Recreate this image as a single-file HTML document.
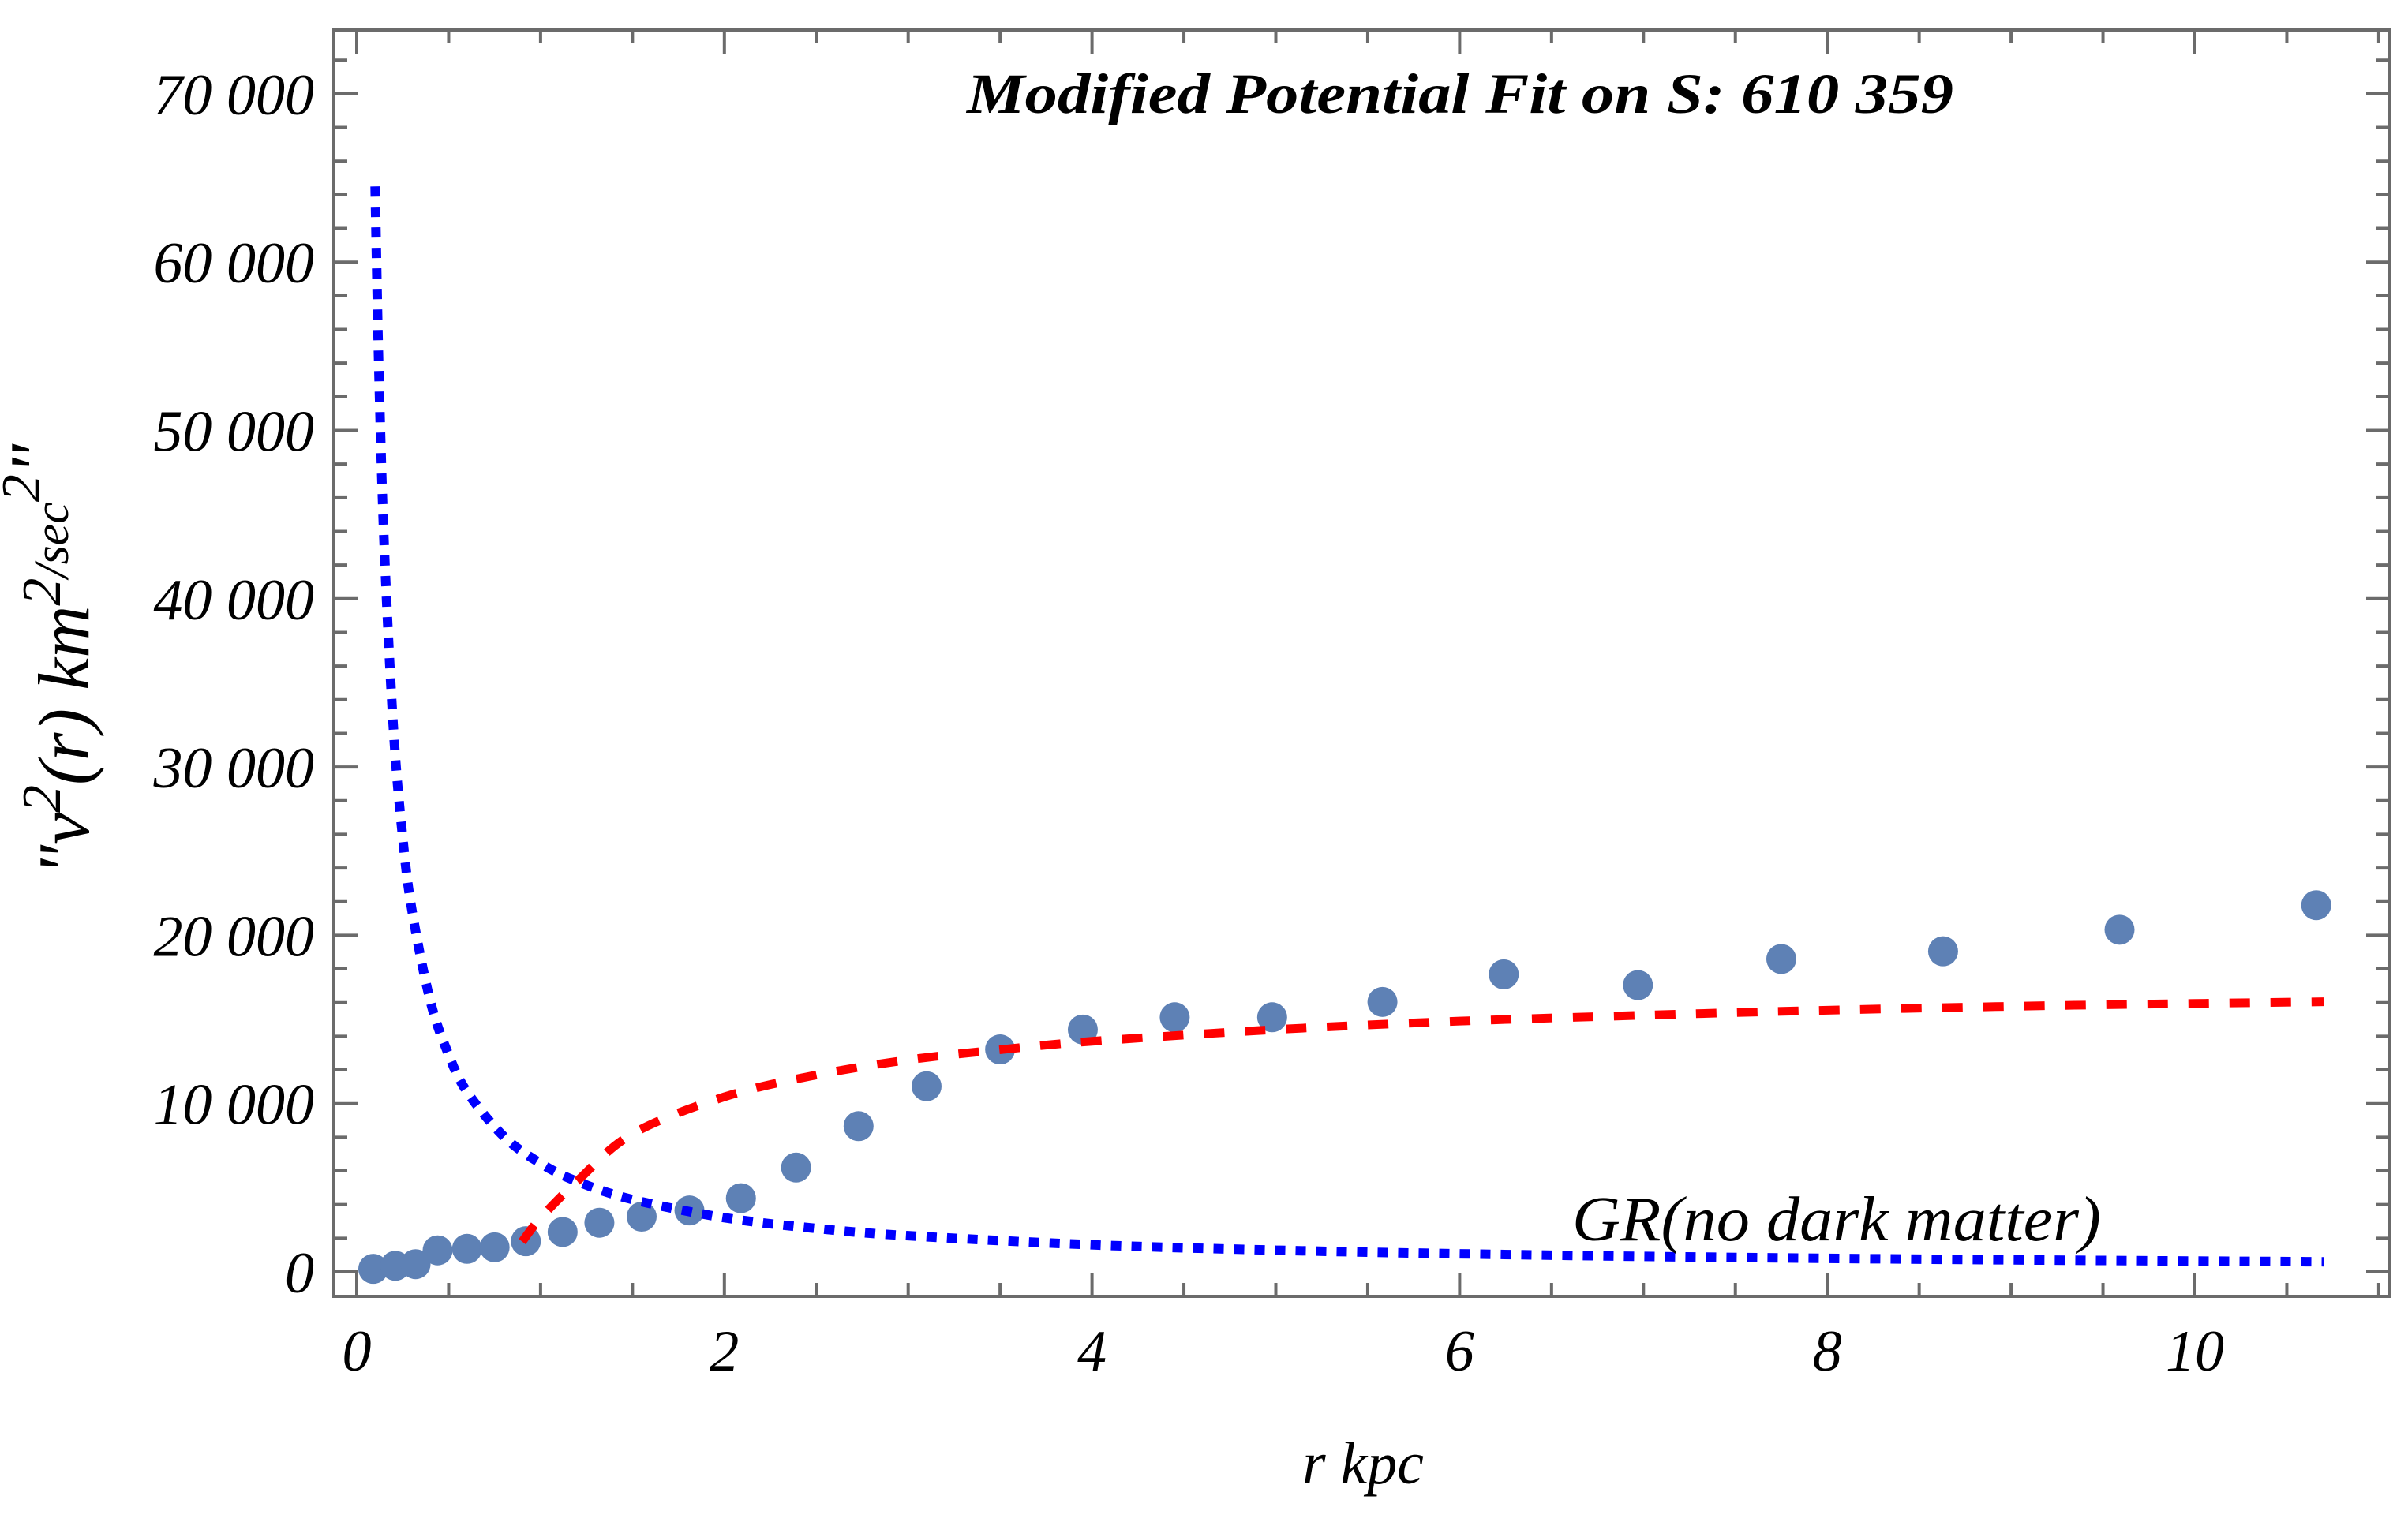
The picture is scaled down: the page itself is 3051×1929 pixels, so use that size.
<!DOCTYPE html>
<html><head><meta charset="utf-8"><style>
html,body{margin:0;padding:0;background:#fff;}
svg{display:block;}
text{font-family:"Liberation Serif",serif;font-style:italic;fill:#000;}
</style></head><body>
<svg id="chart" width="3051" height="1929" viewBox="0 0 3051 1929" xmlns="http://www.w3.org/2000/svg">
<rect x="0" y="0" width="3051" height="1929" fill="#fff"/>
<g id="grid"></g>
<g id="series"></g>
<text x="1850" y="143" font-size="72" font-weight="bold" text-anchor="middle" textLength="1250" lengthAdjust="spacingAndGlyphs">Modified Potential Fit on S: 610 359</text>
<text x="1727" y="1880" font-size="76" text-anchor="middle">r kpc</text>
<text transform="translate(112,836) rotate(-90)" font-size="92" text-anchor="middle">"v<tspan font-size="70" dy="-36">2</tspan><tspan dy="36">(r) km</tspan><tspan font-size="70" dy="-36">2</tspan><tspan font-size="62" dy="10">/sec</tspan><tspan font-size="70" dy="-36">2</tspan><tspan dy="26">"</tspan></text>
<text x="1992" y="1572" font-size="80" textLength="670" lengthAdjust="spacingAndGlyphs">GR(no dark matter)</text>
</svg>
<script>
const xTicks = [0, 2, 4, 6, 8, 10];
const yTicks = [0, 10000, 20000, 30000, 40000, 50000, 60000, 70000];
const yTickLabels = ["0", "10 000", "20 000", "30 000", "40 000", "50 000", "60 000", "70 000"];
const obsR = [0.09,0.21,0.32,0.44,0.60,0.75,0.92,1.12,1.32,1.55,1.81,2.09,2.39,2.73,3.10,3.50,3.95,4.45,4.98,5.58,6.24,6.97,7.75,8.63,9.59,10.66];
const obsV2 = [180,360,460,1280,1370,1460,1820,2370,2920,3280,3650,4380,6200,8660,11030,13220,14400,15130,15130,16040,17680,17040,18590,19050,20330,21790];
const fitR = [0.9,1.0,1.2,1.5,2.0,2.5,3.0,3.5,4.0,5.0,6.0,7.0,8.0,9.0,10.0,10.7];
const fitV2 = [1800,3200,5400,8200,10400,11700,12600,13200,13700,14400,14900,15250,15550,15780,15950,16050];
const grR = [0.1,0.12,0.15,0.2,0.25,0.3,0.4,0.5,0.6,0.8,1.0,1.2,1.5,2.0,2.5,3.0,4.0,5.0,6.0,7.0,8.0,9.0,10.0,10.7];
const grV2 = [64500,53700,43000,32200,25800,21500,16100,12900,10700,8050,6450,5370,4300,3220,2580,2150,1610,1290,1075,920,805,715,645,600];

const X0 = 452, XS = 232.9, Y0 = 1612, YS = 213.3/10000;
const L = 423, R = 3028, T = 38, B = 1643;
const sx = v => X0 + v*XS;
const sy = v => Y0 - v*YS;
const NS = "http://www.w3.org/2000/svg";
const grid = document.getElementById('grid');
const series = document.getElementById('series');
const svg = document.getElementById('chart');
function mk(tag, attrs, parent){const e=document.createElementNS(NS,tag);for(const k in attrs)e.setAttribute(k,attrs[k]);parent.appendChild(e);return e;}

const frame = mk('rect',{x:L,y:T,width:R-L,height:B-T,fill:'none',stroke:'#6b6b6b','stroke-width':4},grid);



for(let v=0; v<=11.01; v+=0.5){
  const major = Math.abs(v/2 - Math.round(v/2))<1e-6;
  const len = major?30:17; const x=sx(v);
  const tb = mk('line',{x1:x,x2:x,y1:B,y2:B-len,stroke:'#6b6b6b','stroke-width':4},grid);
  
  
  const tt = mk('line',{x1:x,x2:x,y1:T,y2:T+len,stroke:'#6b6b6b','stroke-width':4},grid);
  
  
}
xTicks.forEach(v=>{
  const t = mk('text',{x:sx(v),y:1737,'font-size':74,'text-anchor':'middle'},svg);
  t.textContent = String(v);
  
  
});
for(let v=0; v<=74000; v+=2000){
  const major = v%10000===0; const len = major?30:17; const y=sy(v);
  if(y<T+2) continue;
  const tl = mk('line',{x1:L,x2:L+len,y1:y,y2:y,stroke:'#6b6b6b','stroke-width':4},grid);
  
  
  const tr = mk('line',{x1:R,x2:R-len,y1:y,y2:y,stroke:'#6b6b6b','stroke-width':4},grid);
  
  
}
yTicks.forEach((v,i)=>{
  const t = mk('text',{x:398,y:sy(v)+26,'font-size':74,'text-anchor':'end'},svg);
  t.textContent = yTickLabels[i];
  
  
});

function smoothPath(xs, ys){
  const p = xs.map((x,i)=>[sx(x), sy(ys[i])]);
  let d = `M${p[0][0]},${p[0][1]}`;
  for(let i=0;i<p.length-1;i++){
    const p0=p[Math.max(0,i-1)], p1=p[i], p2=p[i+1], p3=p[Math.min(p.length-1,i+2)];
    const c1=[p1[0]+(p2[0]-p0[0])/6, p1[1]+(p2[1]-p0[1])/6];
    const c2=[p2[0]-(p3[0]-p1[0])/6, p2[1]-(p3[1]-p1[1])/6];
    d += ` C${c1[0]},${c1[1]} ${c2[0]},${c2[1]} ${p2[0]},${p2[1]}`;
  }
  return d;
}

obsR.forEach((r,i)=>{
  const c = mk('circle',{cx:sx(r),cy:sy(obsV2[i]),r:19,fill:'#5e81b5'},series);
  
  
});

const gr = mk('path',{d:smoothPath(grR,grV2),fill:'none',stroke:'#0000ff','stroke-width':12,'stroke-dasharray':'13 13'},series);



const fit = mk('path',{d:smoothPath(fitR,fitV2),fill:'none',stroke:'#ff0000','stroke-width':11,'stroke-dasharray':'26 26'},series);


</script>
</body></html>
